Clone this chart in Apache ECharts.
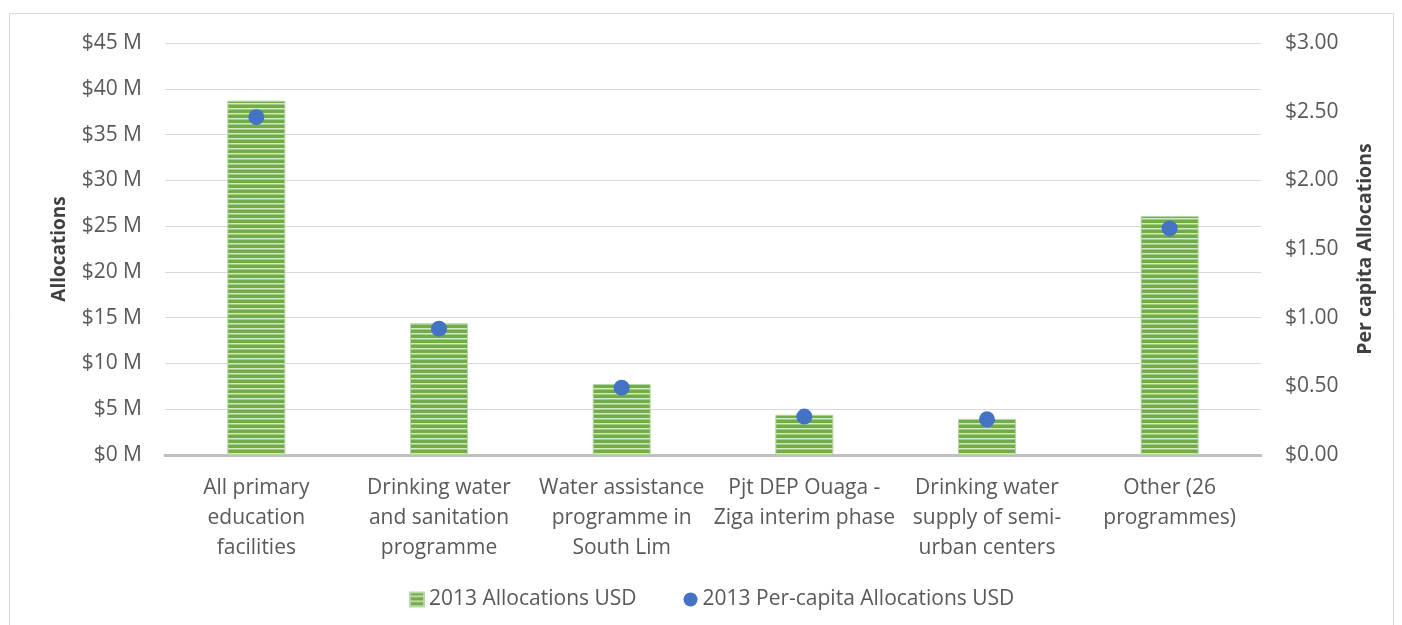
<!DOCTYPE html>
<html><head><meta charset="utf-8">
<script src="https://cdn.jsdelivr.net/npm/echarts@6/dist/echarts.min.js"></script>
<style>html,body{margin:0;padding:0;background:#fff}#c{width:1402px;height:625px}</style>
</head><body><div id="c"></div>
<script>
var categories = ['All primary\neducation\nfacilities', 'Drinking water\nand sanitation\nprogramme', 'Water assistance\nprogramme in\nSouth Lim', 'Pjt DEP Ouaga -\nZiga interim phase', 'Drinking water\nsupply of semi-\nurban centers', 'Other (26\nprogrammes)'];
var allocations = [38.7, 14.4, 7.75, 4.4, 3.95, 26.1];
var perCapita = [2.46, 0.92, 0.49, 0.28, 0.26, 1.65];
var leftTicks = {min: 0, max: 45, interval: 5};
var rightTicks = {min: 0, max: 3, interval: 0.5};

var cv = document.createElement('canvas');
cv.width = 4; cv.height = 5;
var cx = cv.getContext('2d');
cx.fillStyle = '#70AD47'; cx.fillRect(0, 0, 4, 5);
cx.fillStyle = '#D3E8C6'; cx.fillRect(0, 3, 4, 1.5);
var pattern = {image: cv, repeat: 'repeat'};

var font = '"Open Sans", sans-serif';
var chart = echarts.init(document.getElementById('c'));
chart.setOption({
  animation: false,
  textStyle: {fontFamily: font},
  graphic: [{type: 'rect', shape: {x: 9.5, y: 13.5, width: 1384, height: 640}, style: {fill: 'none', stroke: '#d9d9d9', lineWidth: 1}, silent: true}],
  grid: {left: 165, right: 141, top: 43, bottom: 170},
  legend: {
    bottom: 10, left: 404, itemGap: 47, itemWidth: 14, itemHeight: 14,
    textStyle: {color: '#595959', fontSize: 21, fontFamily: font},
    data: [{name: '2013 Allocations USD', icon: 'rect'}, {name: '2013 Per-capita Allocations USD', icon: 'circle'}]
  },
  xAxis: {
    type: 'category', data: categories,
    axisLine: {lineStyle: {color: '#bfbfbf', width: 3}},
    axisTick: {show: false},
    axisLabel: {interval: 0, color: '#595959', fontSize: 21, lineHeight: 30, margin: 18, fontFamily: font}
  },
  yAxis: [{
    type: 'value', min: leftTicks.min, max: leftTicks.max, interval: leftTicks.interval,
    name: 'Allocations', nameLocation: 'middle', nameGap: 96, nameRotate: 90,
    nameTextStyle: {color: '#404040', fontSize: 19, fontWeight: 'bold', fontFamily: font},
    axisLabel: {color: '#595959', fontSize: 21, margin: 23, formatter: function (v) { return '$' + v + ' M'; }},
    axisLine: {show: false}, axisTick: {show: false},
    splitLine: {lineStyle: {color: '#d9d9d9', width: 1}}
  }, {
    type: 'value', min: rightTicks.min, max: rightTicks.max, interval: rightTicks.interval,
    name: 'Per capita Allocations', nameLocation: 'middle', nameGap: 94, nameRotate: 90,
    nameTextStyle: {color: '#404040', fontSize: 19.5, fontWeight: 'bold', fontFamily: font},
    axisLabel: {color: '#595959', fontSize: 21, margin: 24, formatter: function (v) { return '$' + v.toFixed(2); }},
    axisLine: {show: false}, axisTick: {show: false},
    splitLine: {show: false}
  }],
  series: [{
    name: '2013 Allocations USD', type: 'bar', data: allocations, barWidth: 58,
    itemStyle: {color: pattern, borderColor: '#B7D6A3', borderWidth: 1}
  }, {
    name: '2013 Per-capita Allocations USD', type: 'scatter', yAxisIndex: 1, data: perCapita,
    symbolSize: 16, itemStyle: {color: '#4472C4', opacity: 1}, z: 5
  }]
});
</script></body></html>
